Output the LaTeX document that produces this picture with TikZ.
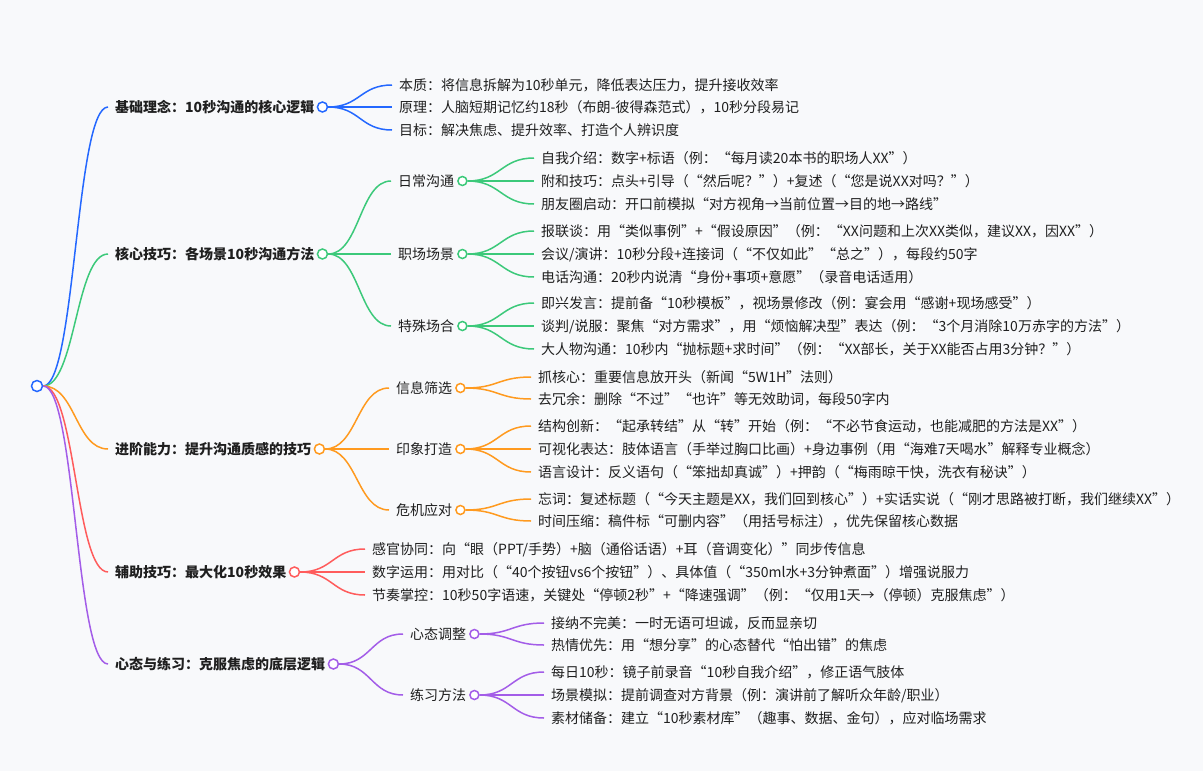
\documentclass[tikz,border=0pt]{standalone}
\usepackage{fontspec}
\newfontfamily\cjk{Noto Sans CJK SC}
\usetikzlibrary{calc}
\definecolor{cb}{HTML}{2468FF}
\definecolor{cg}{HTML}{3CC97A}
\definecolor{co}{HTML}{FF9A1F}
\definecolor{cr}{HTML}{FF5C5C}
\definecolor{cp}{HTML}{A35DE8}
\definecolor{bgc}{HTML}{F8F9FB}
\definecolor{tx}{HTML}{1F1F1F}
\newcommand\lnk[3]{\draw[#1,line width=1.5pt] let \p1=(#2.east), \p2=(#3.west) in (\p1) .. controls ({(\x1+\x2)/2},\y1) and ({(\x1+\x2)/2},\y2) .. (\p2);}
\begin{document}
\begin{tikzpicture}[x=1pt,y=-1pt,
 tnode/.style={anchor=west, inner xsep=7pt, inner ysep=0pt, font=\cjk\fontsize{14}{16}\selectfont, text=tx, text height=12pt, text depth=1.5pt},
 bnode/.style={tnode, font=\cjk\bfseries\fontsize{14}{16}\selectfont},
 dot/.style={circle, draw=#1, fill=white, line width=1.5pt, minimum size=9pt, inner sep=0pt},
]
\fill[bgc] (0,0) rectangle (1203,771);
\useasboundingbox (0,0) rectangle (1203,771);

% root
\node[dot=cb, minimum size=11pt] (R) at (37,386) {};

% level 1
\node[bnode] (A) at (108,107) {基础理念：10秒沟通的核心逻辑};
\node[bnode] (B) at (108,254) {核心技巧：各场景10秒沟通方法};
\node[bnode] (C) at (108,449) {进阶能力：提升沟通质感的技巧};
\node[bnode] (D) at (108,572) {辅助技巧：最大化10秒效果};
\node[bnode] (E) at (108,664) {心态与练习：克服焦虑的底层逻辑};
\node[dot=cb, minimum size=10pt] (Ac) at ([xshift=1pt]A.east) {};
\node[dot=cg, minimum size=10pt] (Bc) at ([xshift=1pt]B.east) {};
\node[dot=co, minimum size=10pt] (Cc) at ([xshift=1pt]C.east) {};
\node[dot=cr, minimum size=10pt] (Dc) at ([xshift=1pt]D.east) {};
\node[dot=cp, minimum size=10pt] (Ec) at ([xshift=1pt]E.east) {};

% A leaves
\node[tnode] (A1) at (392,85) {本质：将信息拆解为10秒单元，降低表达压力，提升接收效率};
\node[tnode] (A2) at (392,107) {原理：人脑短期记忆约18秒（布朗-彼得森范式），10秒分段易记};
\node[tnode] (A3) at (392,130) {目标：解决焦虑、提升效率、打造个人辨识度};

% B subs
\node[tnode] (B1) at (391,181) {日常沟通};
\node[tnode] (B2) at (391,254) {职场场景};
\node[tnode] (B3) at (391,326) {特殊场合};
\node[dot=cg] (B1c) at ([xshift=1pt]B1.east) {};
\node[dot=cg] (B2c) at ([xshift=1pt]B2.east) {};
\node[dot=cg] (B3c) at ([xshift=1pt]B3.east) {};
\node[tnode] (B11) at (534,158) {自我介绍：数字+标语（例：“每月读20本书的职场人XX”）};
\node[tnode] (B12) at (534,181) {附和技巧：点头+引导（“然后呢？”）+复述（“您是说XX对吗？”）};
\node[tnode] (B13) at (534,204) {朋友圈启动：开口前模拟“对方视角→当前位置→目的地→路线”};
\node[tnode] (B21) at (534,231) {报联谈：用“类似事例”+“假设原因”（例：“XX问题和上次XX类似，建议XX，因XX”）};
\node[tnode] (B22) at (534,254) {会议/演讲：10秒分段+连接词（“不仅如此”“总之”），每段约50字};
\node[tnode] (B23) at (534,277) {电话沟通：20秒内说清“身份+事项+意愿”（录音电话适用）};
\node[tnode] (B31) at (534,303) {即兴发言：提前备“10秒模板”，视场景修改（例：宴会用“感谢+现场感受”）};
\node[tnode] (B32) at (534,326) {谈判/说服：聚焦“对方需求”，用“烦恼解决型”表达（例：“3个月消除10万赤字的方法”）};
\node[tnode] (B33) at (534,349) {大人物沟通：10秒内“抛标题+求时间”（例：“XX部长，关于XX能否占用3分钟？”）};

% C subs
\node[tnode] (C1) at (389,388) {信息筛选};
\node[tnode] (C2) at (389,449) {印象打造};
\node[tnode] (C3) at (389,510) {危机应对};
\node[dot=co] (C1c) at ([xshift=1pt]C1.east) {};
\node[dot=co] (C2c) at ([xshift=1pt]C2.east) {};
\node[dot=co] (C3c) at ([xshift=1pt]C3.east) {};
\node[tnode] (C11) at (531,377) {抓核心：重要信息放开头（新闻“5W1H”法则）};
\node[tnode] (C12) at (531,399) {去冗余：删除“不过”“也许”等无效助词，每段50字内};
\node[tnode] (C21) at (531,426) {结构创新：“起承转结”从“转”开始（例：“不必节食运动，也能减肥的方法是XX”）};
\node[tnode] (C22) at (531,449) {可视化表达：肢体语言（手举过胸口比画）+身边事例（用“海难7天喝水”解释专业概念）};
\node[tnode] (C23) at (531,472) {语言设计：反义语句（“笨拙却真诚”）+押韵（“梅雨晾干快，洗衣有秘诀”）};
\node[tnode] (C31) at (531,499) {忘词：复述标题（“今天主题是XX，我们回到核心”）+实话实说（“刚才思路被打断，我们继续XX”）};
\node[tnode] (C32) at (531,521) {时间压缩：稿件标“可删内容”（用括号标注），优先保留核心数据};

% D leaves
\node[tnode] (D1) at (365,549) {感官协同：向“眼（PPT/手势）+脑（通俗话语）+耳（音调变化）”同步传信息};
\node[tnode] (D2) at (365,572) {数字运用：用对比（“40个按钮vs6个按钮”）、具体值（“350ml水+3分钟煮面”）增强说服力};
\node[tnode] (D3) at (365,595) {节奏掌控：10秒50字语速，关键处“停顿2秒”+“降速强调”（例：“仅用1天→（停顿）克服焦虑”）};

% E subs
\node[tnode] (E1) at (403,634) {心态调整};
\node[tnode] (E2) at (403,695) {练习方法};
\node[dot=cp] (E1c) at ([xshift=1pt]E1.east) {};
\node[dot=cp] (E2c) at ([xshift=1pt]E2.east) {};
\node[tnode] (E11) at (544,623) {接纳不完美：一时无语可坦诚，反而显亲切};
\node[tnode] (E12) at (544,645) {热情优先：用“想分享”的心态替代“怕出错”的焦虑};
\node[tnode] (E21) at (544,672) {每日10秒：镜子前录音“10秒自我介绍”，修正语气肢体};
\node[tnode] (E22) at (544,695) {场景模拟：提前调查对方背景（例：演讲前了解听众年龄/职业）};
\node[tnode] (E23) at (544,718) {素材储备：建立“10秒素材库”（趣事、数据、金句），应对临场需求};

% connectors
\lnk{cb}{R}{A} \lnk{cg}{R}{B} \lnk{co}{R}{C} \lnk{cr}{R}{D} \lnk{cp}{R}{E}
\lnk{cb}{Ac}{A1} \lnk{cb}{Ac}{A2} \lnk{cb}{Ac}{A3}
\lnk{cg}{Bc}{B1} \lnk{cg}{Bc}{B2} \lnk{cg}{Bc}{B3}
\lnk{cg}{B1c}{B11} \lnk{cg}{B1c}{B12} \lnk{cg}{B1c}{B13}
\lnk{cg}{B2c}{B21} \lnk{cg}{B2c}{B22} \lnk{cg}{B2c}{B23}
\lnk{cg}{B3c}{B31} \lnk{cg}{B3c}{B32} \lnk{cg}{B3c}{B33}
\lnk{co}{Cc}{C1} \lnk{co}{Cc}{C2} \lnk{co}{Cc}{C3}
\lnk{co}{C1c}{C11} \lnk{co}{C1c}{C12}
\lnk{co}{C2c}{C21} \lnk{co}{C2c}{C22} \lnk{co}{C2c}{C23}
\lnk{co}{C3c}{C31} \lnk{co}{C3c}{C32}
\lnk{cr}{Dc}{D1} \lnk{cr}{Dc}{D2} \lnk{cr}{Dc}{D3}
\lnk{cp}{Ec}{E1} \lnk{cp}{Ec}{E2}
\lnk{cp}{E1c}{E11} \lnk{cp}{E1c}{E12}
\lnk{cp}{E2c}{E21} \lnk{cp}{E2c}{E22} \lnk{cp}{E2c}{E23}
\end{tikzpicture}
\end{document}
